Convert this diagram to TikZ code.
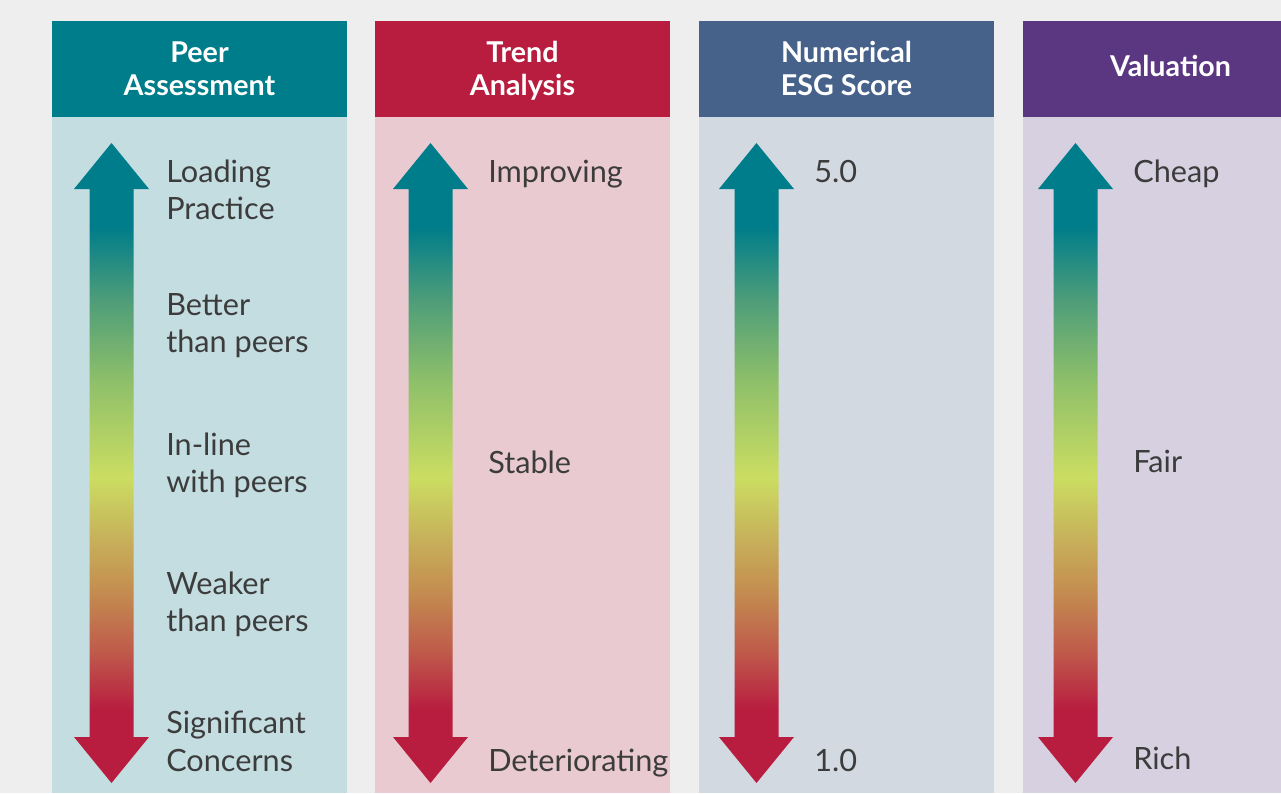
\documentclass[tikz,border=0pt]{standalone}
\usepackage{fontspec}
\setmainfont{Lato}
\definecolor{bgray}{HTML}{EEEEEE}
\definecolor{hteal}{HTML}{007D8A}
\definecolor{bteal}{HTML}{C3DDE1}
\definecolor{hcrim}{HTML}{B81D40}
\definecolor{bcrim}{HTML}{E9CAD1}
\definecolor{hslate}{HTML}{46628A}
\definecolor{bslate}{HTML}{D2D9E1}
\definecolor{hpurp}{HTML}{5B3781}
\definecolor{bpurp}{HTML}{D6D0E0}
\definecolor{txt}{HTML}{3C3C3C}
\definecolor{aTeal}{HTML}{007D8A}
\definecolor{aGrn}{HTML}{4E9D79}
\definecolor{aLgrn}{HTML}{8DBF6A}
\definecolor{aYlw}{HTML}{CBDD62}
\definecolor{aTan}{HTML}{C7B05A}
\definecolor{aOrng}{HTML}{C48E50}
\definecolor{aRed}{HTML}{BF5C4B}
\definecolor{aCrim}{HTML}{B81D40}
\pgfdeclareverticalshading{esgshade}{100bp}{color(0bp)=(aCrim); color(25bp)=(aCrim); color(30.7bp)=(aCrim); color(35.4bp)=(aRed); color(40.1bp)=(aOrng); color(44bp)=(aTan); color(48.9bp)=(aYlw); color(56.5bp)=(aLgrn); color(62.7bp)=(aGrn); color(68.4bp)=(aTeal); color(75bp)=(aTeal); color(100bp)=(aTeal)}
\newcommand{\esgarrow}[1]{%
  \path[shading=esgshade] (#1,143) -- (#1+37.5,189) -- (#1+22,189) -- (#1+22,737) -- (#1+37.5,737) -- (#1,783) -- (#1-37.5,737) -- (#1-22,737) -- (#1-22,189) -- (#1-37.5,189) -- cycle;}
\tikzset{
  htext/.style={anchor=base, inner sep=0pt, text=white, font=\fontsize{21.5}{26}\selectfont\bfseries},
  ltext/.style={anchor=base west, inner sep=0pt, text=txt, font=\fontsize{23}{28}\selectfont},
}
\begin{document}
\begin{tikzpicture}[x=0.75pt,y=-0.75pt]
\useasboundingbox (0,0) rectangle (1281,793);
\fill[bgray] (0,0) rectangle (1281,793);
% column 1
\fill[bteal] (52,117) rectangle (347,793);
\fill[hteal] (52,21) rectangle (347,117);
\node[htext] (h1a) at (199.5,62) {Peer};
\node[htext] (h1b) at (199.5,95) {Assessment};
\esgarrow{111.5}
\node[ltext] (l1a) at (166,182) {Loading};
\node[ltext] (l1b) at (166,219) {Practice};
\node[ltext] (l2a) at (166,315) {Better};
\node[ltext] (l2b) at (166,352.5) {than peers};
\node[ltext] (l3a) at (166,455) {In-line};
\node[ltext] (l3b) at (166,492.5) {with peers};
\node[ltext] (l4a) at (166,594) {Weaker};
\node[ltext] (l4b) at (166,631) {than peers};
\node[ltext] (l5a) at (166,733.5) {Significant};
\node[ltext] (l5b) at (166,771.5) {Concerns};
% column 2
\fill[bcrim] (375,117) rectangle (670,793);
\fill[hcrim] (375,21) rectangle (670,117);
\node[htext] (h2a) at (522.5,62) {Trend};
\node[htext] (h2b) at (522.5,95) {Analysis};
\esgarrow{430.5}
\node[ltext] (t1) at (488,182) {Improving};
\node[ltext] (t2) at (488,473) {Stable};
\node[ltext] (t3) at (488,771) {Deteriorating};
% column 3
\fill[bslate] (699,117) rectangle (994,793);
\fill[hslate] (699,21) rectangle (994,117);
\node[htext] (h3a) at (846.5,62) {Numerical};
\node[htext] (h3b) at (846.5,95) {ESG Score};
\esgarrow{756.5}
\node[ltext] (n1) at (814,182) {5.0};
\node[ltext] (n2) at (814,771.5) {1.0};
% column 4
\fill[bpurp] (1023,117) rectangle (1281,793);
\fill[hpurp] (1023,21) rectangle (1281,117);
\node[htext] (h4a) at (1170.5,76) {Valuation};
\esgarrow{1075.5}
\node[ltext] (v1) at (1133,182) {Cheap};
\node[ltext] (v2) at (1133,472.5) {Fair};
\node[ltext] (v3) at (1133,769) {Rich};
\end{tikzpicture}
\end{document}
